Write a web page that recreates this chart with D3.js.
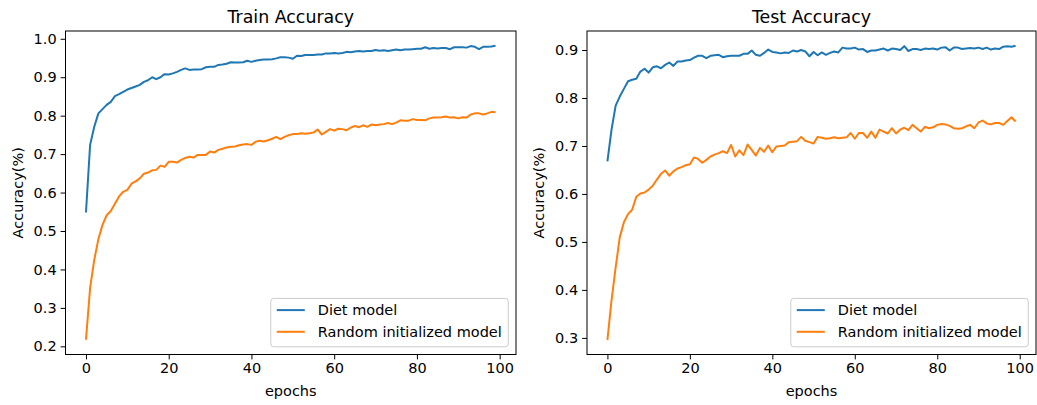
<!DOCTYPE html>
<html>
<head>
<meta charset="utf-8">
<script src="https://cdn.jsdelivr.net/npm/d3@7"></script>
<style>
  body { margin: 0; background: #fff; }
  text { font-family: "DejaVu Sans", sans-serif; fill: #000; }
</style>
</head>
<body>
<div id="chart"></div>
<script>
// epochs 0..99
const epochs = d3.range(100);

const trainDiet = [
  0.548, 0.724, 0.771, 0.806, 0.817, 0.828, 0.836, 0.851, 0.856, 0.862,
  0.868, 0.872, 0.876, 0.880, 0.888, 0.892, 0.900, 0.895, 0.900, 0.908,
  0.907, 0.910, 0.914, 0.919, 0.923, 0.919, 0.920, 0.920, 0.921, 0.926,
  0.927, 0.927, 0.932, 0.933, 0.935, 0.939, 0.938, 0.938, 0.939, 0.943,
  0.940, 0.943, 0.945, 0.946, 0.946, 0.947, 0.949, 0.952, 0.952, 0.951,
  0.948, 0.956, 0.955, 0.958, 0.958, 0.958, 0.959, 0.959, 0.962, 0.962,
  0.963, 0.962, 0.963, 0.966, 0.965, 0.967, 0.968, 0.967, 0.968, 0.968,
  0.971, 0.969, 0.970, 0.968, 0.970, 0.972, 0.970, 0.972, 0.972, 0.973,
  0.974, 0.974, 0.978, 0.974, 0.976, 0.975, 0.976, 0.976, 0.973, 0.978,
  0.978, 0.978, 0.977, 0.981, 0.979, 0.973, 0.979, 0.979, 0.980, 0.982
];

const trainRandom = [
  0.217, 0.352, 0.425, 0.479, 0.516, 0.541, 0.552, 0.571, 0.590, 0.602,
  0.607, 0.623, 0.629, 0.637, 0.649, 0.652, 0.658, 0.659, 0.670, 0.667,
  0.680, 0.680, 0.678, 0.685, 0.690, 0.693, 0.691, 0.698, 0.698, 0.698,
  0.707, 0.704, 0.711, 0.714, 0.717, 0.719, 0.720, 0.723, 0.725, 0.726,
  0.724, 0.732, 0.735, 0.733, 0.736, 0.740, 0.745, 0.739, 0.745, 0.749,
  0.752, 0.752, 0.754, 0.753, 0.754, 0.756, 0.764, 0.751, 0.758, 0.765,
  0.761, 0.766, 0.765, 0.762, 0.769, 0.773, 0.770, 0.775, 0.771, 0.777,
  0.775, 0.777, 0.778, 0.781, 0.778, 0.782, 0.788, 0.787, 0.787, 0.791,
  0.789, 0.789, 0.788, 0.793, 0.795, 0.795, 0.796, 0.798, 0.795, 0.796,
  0.793, 0.796, 0.795, 0.803, 0.806, 0.806, 0.803, 0.806, 0.810, 0.809
];

const testDiet = [
  0.668, 0.734, 0.784, 0.803, 0.819, 0.835, 0.838, 0.840, 0.855, 0.861,
  0.853, 0.864, 0.866, 0.862, 0.869, 0.874, 0.867, 0.876, 0.876, 0.878,
  0.879, 0.884, 0.888, 0.888, 0.883, 0.888, 0.889, 0.890, 0.885, 0.887,
  0.888, 0.888, 0.888, 0.892, 0.892, 0.899, 0.890, 0.888, 0.894, 0.901,
  0.896, 0.895, 0.893, 0.895, 0.894, 0.899, 0.897, 0.900, 0.897, 0.887,
  0.896, 0.889, 0.895, 0.890, 0.894, 0.897, 0.895, 0.905, 0.903, 0.903,
  0.905, 0.901, 0.902, 0.896, 0.899, 0.899, 0.901, 0.903, 0.899, 0.903,
  0.902, 0.900, 0.908, 0.898, 0.902, 0.902, 0.900, 0.903, 0.902, 0.903,
  0.901, 0.905, 0.906, 0.899, 0.905, 0.905, 0.902, 0.903, 0.904, 0.903,
  0.905, 0.902, 0.905, 0.901, 0.903, 0.902, 0.907, 0.908, 0.907, 0.909
];

const testRandom = [
  0.296, 0.378, 0.447, 0.510, 0.541, 0.558, 0.567, 0.594, 0.601, 0.603,
  0.609, 0.617, 0.630, 0.642, 0.649, 0.638, 0.647, 0.653, 0.656, 0.660,
  0.662, 0.676, 0.673, 0.665, 0.671, 0.678, 0.682, 0.685, 0.689, 0.685,
  0.702, 0.678, 0.691, 0.681, 0.703, 0.692, 0.680, 0.696, 0.688, 0.701,
  0.687, 0.699, 0.700, 0.701, 0.708, 0.709, 0.710, 0.719, 0.711, 0.708,
  0.705, 0.719, 0.717, 0.715, 0.716, 0.718, 0.716, 0.717, 0.718, 0.727,
  0.715, 0.727, 0.727, 0.717, 0.730, 0.717, 0.734, 0.730, 0.726, 0.737,
  0.726, 0.734, 0.738, 0.733, 0.744, 0.737, 0.730, 0.740, 0.737, 0.739,
  0.744, 0.746, 0.745, 0.742, 0.737, 0.736, 0.737, 0.741, 0.744, 0.737,
  0.749, 0.753, 0.747, 0.745, 0.748, 0.748, 0.744, 0.752, 0.760, 0.751
];

const seriesNames = ["Diet model", "Random initialized model"];
const colors = ["#1f77b4", "#ff7f0e"];
const xTicks = [0, 20, 40, 60, 80, 100];
const trainYTicks = [0.2, 0.3, 0.4, 0.5, 0.6, 0.7, 0.8, 0.9, 1.0];
const testYTicks = [0.3, 0.4, 0.5, 0.6, 0.7, 0.8, 0.9];

const width = 1037;
const height = 405;
const fontSize = "14.5px";

const svg = d3.select("#chart")
  .append("svg")
  .attr("width", width)
  .attr("height", height);

const panels = [
  { title: "Train Accuracy", series: [trainDiet, trainRandom], yTicks: trainYTicks,
    left: 65.5, right: 516, ylabelX: 23 },
  { title: "Test Accuracy", series: [testDiet, testRandom], yTicks: testYTicks,
    left: 587, right: 1036, ylabelX: 544 }
];
const plotTop = 31;
const plotBottom = 354.5;

panels.forEach(p => {
  const g = svg.append("g");

  // matplotlib style 5% margins
  const x = d3.scaleLinear()
    .domain([-4.95, 103.95])
    .range([p.left, p.right]);

  const all = p.series.flat();
  const lo = d3.min(all), hi = d3.max(all);
  const pad = (hi - lo) * 0.05;
  const y = d3.scaleLinear()
    .domain([lo - pad, hi + pad])
    .range([plotBottom, plotTop]);

  // axes
  const xAxis = g.append("g")
    .attr("transform", `translate(0,${plotBottom})`)
    .call(d3.axisBottom(x).tickValues(xTicks).tickSize(4.9).tickPadding(3.5).tickSizeOuter(0));
  const yAxis = g.append("g")
    .attr("transform", `translate(${p.left},0)`)
    .call(d3.axisLeft(y).tickValues(p.yTicks).tickFormat(d3.format(".1f")).tickSize(4.9).tickPadding(4).tickSizeOuter(0));

  [xAxis, yAxis].forEach(a => {
    a.select(".domain").remove();
    a.attr("font-family", null).attr("font-size", null);
    a.selectAll("line").attr("stroke", "#000").attr("stroke-width", 1);
    a.selectAll("text").style("font-size", fontSize).attr("fill", "#000");
  });
  xAxis.selectAll("text").attr("dy", "0.71em");

  // lines
  const line = d3.line()
    .x((d, i) => x(epochs[i]))
    .y(d => y(d));

  p.series.forEach((s, i) => {
    g.append("path")
      .datum(s)
      .attr("d", line)
      .attr("fill", "none")
      .attr("stroke", colors[i])
      .attr("stroke-width", 2)
      .attr("stroke-linejoin", "round");
  });

  // frame
  g.append("rect")
    .attr("x", p.left)
    .attr("y", plotTop)
    .attr("width", p.right - p.left)
    .attr("height", plotBottom - plotTop)
    .attr("fill", "none")
    .attr("stroke", "#000")
    .attr("stroke-width", 1);

  // title and labels
  const cx = (p.left + p.right) / 2;
  g.append("text")
    .attr("x", cx)
    .attr("y", 23)
    .attr("text-anchor", "middle")
    .style("font-size", "17.4px")
    .text(p.title);

  g.append("text")
    .attr("x", cx)
    .attr("y", 396)
    .attr("text-anchor", "middle")
    .style("font-size", fontSize)
    .text("epochs");

  g.append("text")
    .attr("transform", `translate(${p.ylabelX},${(plotTop + plotBottom) / 2}) rotate(-90)`)
    .attr("text-anchor", "middle")
    .style("font-size", fontSize)
    .text("Accuracy(%)");

  // legend, lower right
  const leg = g.append("g");
  const box = leg.append("rect")
    .attr("fill", "#fff")
    .attr("fill-opacity", 0.8)
    .attr("stroke", "#ccc")
    .attr("stroke-width", 1)
    .attr("rx", 3);

  const labels = seriesNames.map((name, i) => {
    leg.append("line")
      .attr("x1", 6).attr("x2", 34)
      .attr("y1", 11.7 + i * 21.7).attr("y2", 11.7 + i * 21.7)
      .attr("stroke", colors[i])
      .attr("stroke-width", 2);
    return leg.append("text")
      .attr("x", 47)
      .attr("y", 11.7 + i * 21.7)
      .attr("dy", "0.36em")
      .style("font-size", fontSize)
      .text(name);
  });

  const textW = d3.max(labels, t => t.node().getComputedTextLength());
  const boxW = 47 + textW + 6.5;
  const boxH = 48.4;
  box.attr("width", boxW).attr("height", boxH);
  leg.attr("transform", `translate(${p.right - 7.7 - boxW},${plotBottom - 7.7 - boxH})`);
});
</script>
</body>
</html>
